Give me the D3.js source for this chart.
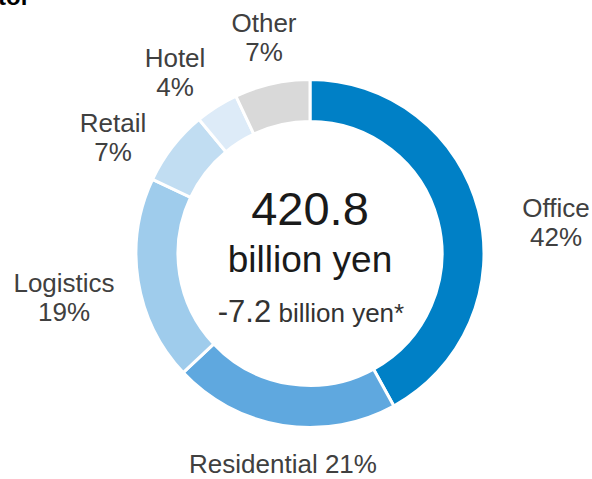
<!DOCTYPE html>
<html>
<head>
<meta charset="utf-8">
<script src="https://cdn.jsdelivr.net/npm/d3@7"></script>
<style>
  html, body { margin: 0; padding: 0; background: #fff; }
  svg { display: block; font-family: "Liberation Sans", Arial, sans-serif; }
</style>
</head>
<body>
<svg id="chart" width="592" height="479"></svg>
<script>
const categories = ["Office", "Residential", "Logistics", "Retail", "Hotel", "Other"];
const shares = [42, 21, 19, 7, 4, 7];
const colors = ["#0080C6", "#5FA8DF", "#9FCCEC", "#C1DDF2", "#DDEBF8", "#D9D9D9"];
const totalValue = "420.8";
const totalUnit = "billion yen";
const changeValue = "-7.2";
const changeUnit = " billion yen*";
const titleText = "Breakdown by sector";

// label layout: [x, baseline of first line, twoLines]
const labelPos = {
  "Office": [556, 217, true],
  "Residential": [283, 473, false],
  "Logistics": [64, 292, true],
  "Retail": [113, 132, true],
  "Hotel": [175, 67, true],
  "Other": [264, 32, true]
};

const svg = d3.select("#chart");
const cx = 310, cy = 253.5, rOuter = 174, rInner = 132;

svg.append("text")
  .attr("x", 30).attr("y", 5)
  .attr("text-anchor", "end")
  .attr("font-weight", "bold")
  .attr("font-size", 24)
  .attr("fill", "#000")
  .text(titleText);

const data = categories.map((c, i) => ({ name: c, value: shares[i], color: colors[i] }));
const pie = d3.pie().sort(null).value(d => d.value);
const arc = d3.arc().innerRadius(rInner).outerRadius(rOuter);

const g = svg.append("g").attr("transform", `translate(${cx},${cy})`);
g.selectAll("path")
  .data(pie(data))
  .join("path")
  .attr("d", arc)
  .attr("fill", d => d.data.color)
  .attr("stroke", "#fff")
  .attr("stroke-width", 3);

// Labels
const lab = svg.append("g").attr("fill", "#404040").attr("font-size", 26).attr("text-anchor", "middle");
data.forEach(d => {
  const [x, y, two] = labelPos[d.name];
  if (two) {
    lab.append("text").attr("x", x).attr("y", y).text(d.name);
    lab.append("text").attr("x", x).attr("y", y + 29).text(d.value + "%");
  } else {
    lab.append("text").attr("x", x).attr("y", y).text(d.name + " " + d.value + "%");
  }
});

// Center texts
svg.append("text").attr("x", cx).attr("y", 225)
  .attr("text-anchor", "middle").attr("font-size", 47).attr("fill", "#1a1a1a")
  .text(totalValue);
svg.append("text").attr("x", cx).attr("y", 272)
  .attr("text-anchor", "middle").attr("font-size", 37).attr("fill", "#1a1a1a")
  .text(totalUnit);
const ch = svg.append("text").attr("x", cx + 1).attr("y", 322)
  .attr("text-anchor", "middle").attr("fill", "#333");
ch.append("tspan").attr("font-size", 31).text(changeValue);
ch.append("tspan").attr("font-size", 26).text(changeUnit);
</script>
</body>
</html>
